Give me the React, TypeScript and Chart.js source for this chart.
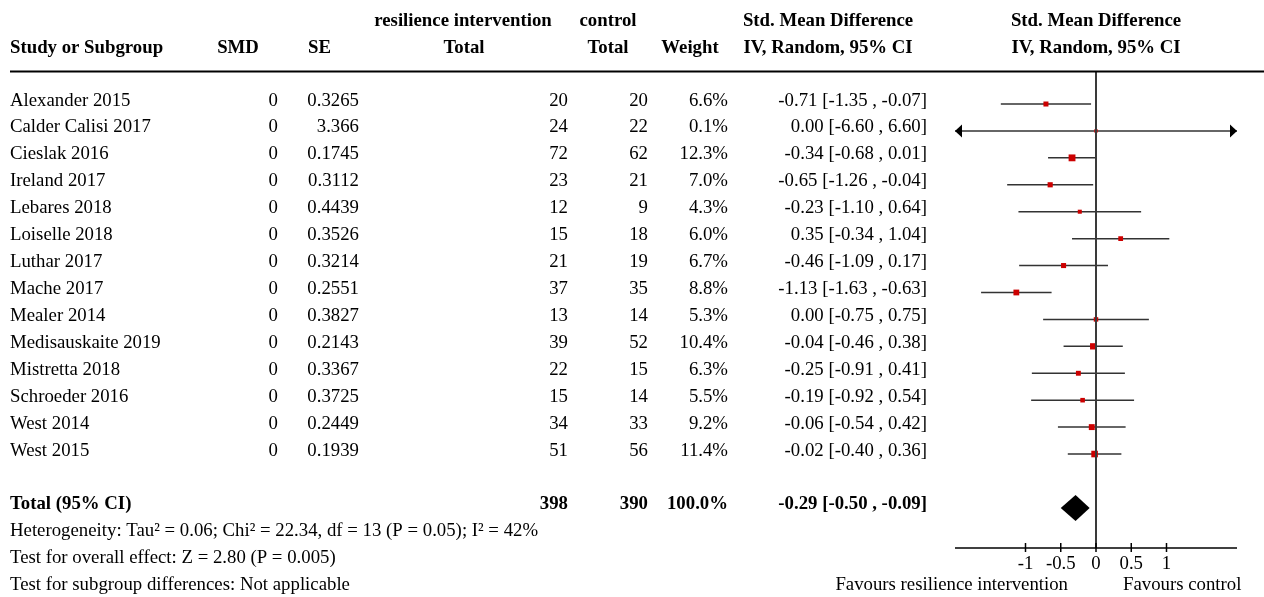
import React, { useEffect, useRef } from "react";
import { Chart, registerables } from "chart.js";
Chart.register(...registerables);

// ---------- data ----------
const studies = [
  "Alexander 2015", "Calder Calisi 2017", "Cieslak 2016", "Ireland 2017", "Lebares 2018",
  "Loiselle 2018", "Luthar 2017", "Mache 2017", "Mealer 2014", "Medisauskaite 2019",
  "Mistretta 2018", "Schroeder 2016", "West 2014", "West 2015",
];
const smdValues = [0, 0, 0, 0, 0, 0, 0, 0, 0, 0, 0, 0, 0, 0];
const seValues = ["0.3265", "3.366", "0.1745", "0.3112", "0.4439", "0.3526", "0.3214", "0.2551", "0.3827", "0.2143", "0.3367", "0.3725", "0.2449", "0.1939"];
const interventionTotals = [20, 24, 72, 23, 12, 15, 21, 37, 13, 39, 22, 15, 34, 51];
const controlTotals = [20, 22, 62, 21, 9, 18, 19, 35, 14, 52, 15, 14, 33, 56];
const weights = [6.6, 0.1, 12.3, 7.0, 4.3, 6.0, 6.7, 8.8, 5.3, 10.4, 6.3, 5.5, 9.2, 11.4];
const estimates = [-0.71, 0.0, -0.34, -0.65, -0.23, 0.35, -0.46, -1.13, 0.0, -0.04, -0.25, -0.19, -0.06, -0.02];
const lowerCI = [-1.35, -6.6, -0.68, -1.26, -1.1, -0.34, -1.09, -1.63, -0.75, -0.46, -0.91, -0.92, -0.54, -0.4];
const upperCI = [-0.07, 6.6, 0.01, -0.04, 0.64, 1.04, 0.17, -0.63, 0.75, 0.38, 0.41, 0.54, 0.42, 0.36];

const totalLabel = "Total (95% CI)";
const totalIntervention = 398;
const totalControl = 390;
const totalWeight = 100.0;
const totalEstimate = -0.29;
const totalLower = -0.5;
const totalUpper = -0.09;

const footerLines = [
  "Heterogeneity: Tau² = 0.06; Chi² = 22.34, df = 13 (P = 0.05); I² = 42%",
  "Test for overall effect: Z = 2.80 (P = 0.005)",
  "Test for subgroup differences: Not applicable",
];

const xTickValues = [-1, -0.5, 0, 0.5, 1];
const xTickLabels = ["-1", "-0.5", "0", "0.5", "1"];
const xMin = -2;
const xMax = 2;
const favoursLeft = "Favours resilience intervention";
const favoursRight = "Favours control";

// ---------- styles ----------
const W = 1264;
const H = 597;
const FONT_SIZE = 18.8;
const FONT = `${FONT_SIZE}px "Liberation Serif", "Times New Roman", serif`;
const BOLD = `bold ${FONT_SIZE}px "Liberation Serif", "Times New Roman", serif`;
const RED = "#cc0000";
const LINE = "#333333";

const TOTAL_ROW = 15;
const Y_MIN = -1.226;
const Y_MAX = 16.49;

const fmt2 = (v: number) => v.toFixed(2);
const ciText = (e: number, l: number, u: number) => `${fmt2(e)} [${fmt2(l)} , ${fmt2(u)}]`;
const clip = (v: number) => Math.max(xMin, Math.min(xMax, v));

const forestPlugin = {
  id: "forest",
  afterDatasetsDraw(chart: any) {
    const ctx = chart.ctx;
    const xs = chart.scales.x;
    const ys = chart.scales.y;
    const area = chart.chartArea;
    ctx.save();
    // arrows for clipped CIs
    ctx.fillStyle = "#000";
    studies.forEach((_, i) => {
      const y = ys.getPixelForValue(i);
      if (lowerCI[i] < xMin) {
        const x = xs.getPixelForValue(xMin);
        ctx.beginPath();
        ctx.moveTo(x, y);
        ctx.lineTo(x + 7, y - 6.5);
        ctx.lineTo(x + 7, y + 6.5);
        ctx.closePath();
        ctx.fill();
      }
      if (upperCI[i] > xMax) {
        const x = xs.getPixelForValue(xMax);
        ctx.beginPath();
        ctx.moveTo(x, y);
        ctx.lineTo(x - 7, y - 6.5);
        ctx.lineTo(x - 7, y + 6.5);
        ctx.closePath();
        ctx.fill();
      }
    });
    // diamond
    const yc = ys.getPixelForValue(TOTAL_ROW);
    ctx.beginPath();
    ctx.moveTo(xs.getPixelForValue(totalLower), yc);
    ctx.lineTo(xs.getPixelForValue(totalEstimate), yc - 13);
    ctx.lineTo(xs.getPixelForValue(totalUpper), yc);
    ctx.lineTo(xs.getPixelForValue(totalEstimate), yc + 13);
    ctx.closePath();
    ctx.fill();
    // zero line
    const x0 = xs.getPixelForValue(0);
    ctx.strokeStyle = "#3a3a3a";
    ctx.lineWidth = 2;
    ctx.beginPath();
    ctx.moveTo(x0, area.top);
    ctx.lineTo(x0, area.bottom);
    ctx.stroke();
    // axis
    ctx.strokeStyle = "#000";
    ctx.lineWidth = 1.5;
    ctx.beginPath();
    ctx.moveTo(area.left, area.bottom);
    ctx.lineTo(area.right, area.bottom);
    ctx.stroke();
    xTickValues.forEach((v) => {
      const x = xs.getPixelForValue(v);
      ctx.beginPath();
      ctx.moveTo(x, area.bottom - 5);
      ctx.lineTo(x, area.bottom + 4);
      ctx.stroke();
    });
    ctx.fillStyle = "#000";
    ctx.font = FONT;
    ctx.textAlign = "center";
    ctx.textBaseline = "alphabetic";
    xTickValues.forEach((v, i) => {
      ctx.fillText(xTickLabels[i], xs.getPixelForValue(v), area.bottom + 21);
    });
    ctx.restore();
  },
  afterDraw(chart: any) {
    const ctx = chart.ctx;
    const xs = chart.scales.x;
    const ys = chart.scales.y;
    const x0 = xs.getPixelForValue(0);
    const base = (i: number) => ys.getPixelForValue(i) + 1.5;
    ctx.save();
    ctx.fillStyle = "#000";
    ctx.textBaseline = "alphabetic";
    const t = (s: string, x: number, y: number, align: CanvasTextAlign, bold = false) => {
      ctx.font = bold ? BOLD : FONT;
      ctx.textAlign = align;
      ctx.fillText(s, x, y);
    };
    // headers
    const h1 = 26;
    const h2 = 53;
    t("Study or Subgroup", 10, h2, "left", true);
    t("SMD", 238, h2, "center", true);
    t("SE", 308, h2, "left", true);
    t("resilience intervention", 463, h1, "center", true);
    t("Total", 464, h2, "center", true);
    t("control", 608, h1, "center", true);
    t("Total", 608, h2, "center", true);
    t("Weight", 690, h2, "center", true);
    t("Std. Mean Difference", 828, h1, "center", true);
    t("IV, Random, 95% CI", 828, h2, "center", true);
    t("Std. Mean Difference", x0, h1, "center", true);
    t("IV, Random, 95% CI", x0, h2, "center", true);
    // header rule
    ctx.strokeStyle = "#000";
    ctx.lineWidth = 2;
    ctx.beginPath();
    ctx.moveTo(10, 71.5);
    ctx.lineTo(W, 71.5);
    ctx.stroke();
    // rows
    studies.forEach((name, i) => {
      const y = base(i);
      t(name, 10, y, "left");
      t(String(smdValues[i]), 278, y, "right");
      t(seValues[i], 359, y, "right");
      t(String(interventionTotals[i]), 568, y, "right");
      t(String(controlTotals[i]), 648, y, "right");
      t(`${weights[i].toFixed(1)}%`, 728, y, "right");
      t(ciText(estimates[i], lowerCI[i], upperCI[i]), 927, y, "right");
    });
    // total
    const yt = base(TOTAL_ROW);
    t(totalLabel, 10, yt, "left", true);
    t(String(totalIntervention), 568, yt, "right", true);
    t(String(totalControl), 648, yt, "right", true);
    t(`${totalWeight.toFixed(1)}%`, 728, yt, "right", true);
    t(ciText(totalEstimate, totalLower, totalUpper), 927, yt, "right", true);
    footerLines.forEach((s, k) => t(s, 10, base(TOTAL_ROW + 1 + k), "left"));
    // favours
    const yf = base(TOTAL_ROW + 3);
    t(favoursLeft, x0 - 28, yf, "right");
    t(favoursRight, x0 + 27, yf, "left");
    ctx.restore();
  },
};

export default function App() {
  const ref = useRef<HTMLCanvasElement>(null);
  useEffect(() => {
    if (!ref.current) return;
    const ciDatasets = studies.map((_, i) => ({
      type: "line" as const,
      data: [
        { x: clip(lowerCI[i]), y: i },
        { x: clip(upperCI[i]), y: i },
      ],
      borderColor: LINE,
      borderWidth: 1.5,
      pointRadius: 0,
      fill: false,
      order: 2,
    }));
    const squares = {
      type: "scatter" as const,
      data: studies.map((_, i) => ({ x: estimates[i], y: i })),
      pointStyle: "rect",
      pointRadius: weights.map((w) => Math.max(2.4, Math.sqrt(w) * 1.38)),
      backgroundColor: RED,
      borderColor: RED,
      borderWidth: 0,
      order: 1,
    };
    const chart = new Chart(ref.current, {
      type: "scatter",
      data: { datasets: [...ciDatasets, squares] as any },
      options: {
        animation: false,
        responsive: false,
        devicePixelRatio: 1,
        layout: { padding: { left: 955, right: 27, top: 71, bottom: 49 } },
        plugins: { legend: { display: false }, tooltip: { enabled: false } },
        scales: {
          x: { type: "linear", min: xMin, max: xMax, display: false },
          y: { type: "linear", min: Y_MIN, max: Y_MAX, reverse: true, display: false },
        },
      },
      plugins: [forestPlugin],
    });
    return () => chart.destroy();
  }, []);
  return (
    <div style={{ position: "absolute", left: 0, top: 0, width: W, height: H, background: "#fff" }}>
      <canvas ref={ref} width={W} height={H} style={{ width: W, height: H }} />
    </div>
  );
}
